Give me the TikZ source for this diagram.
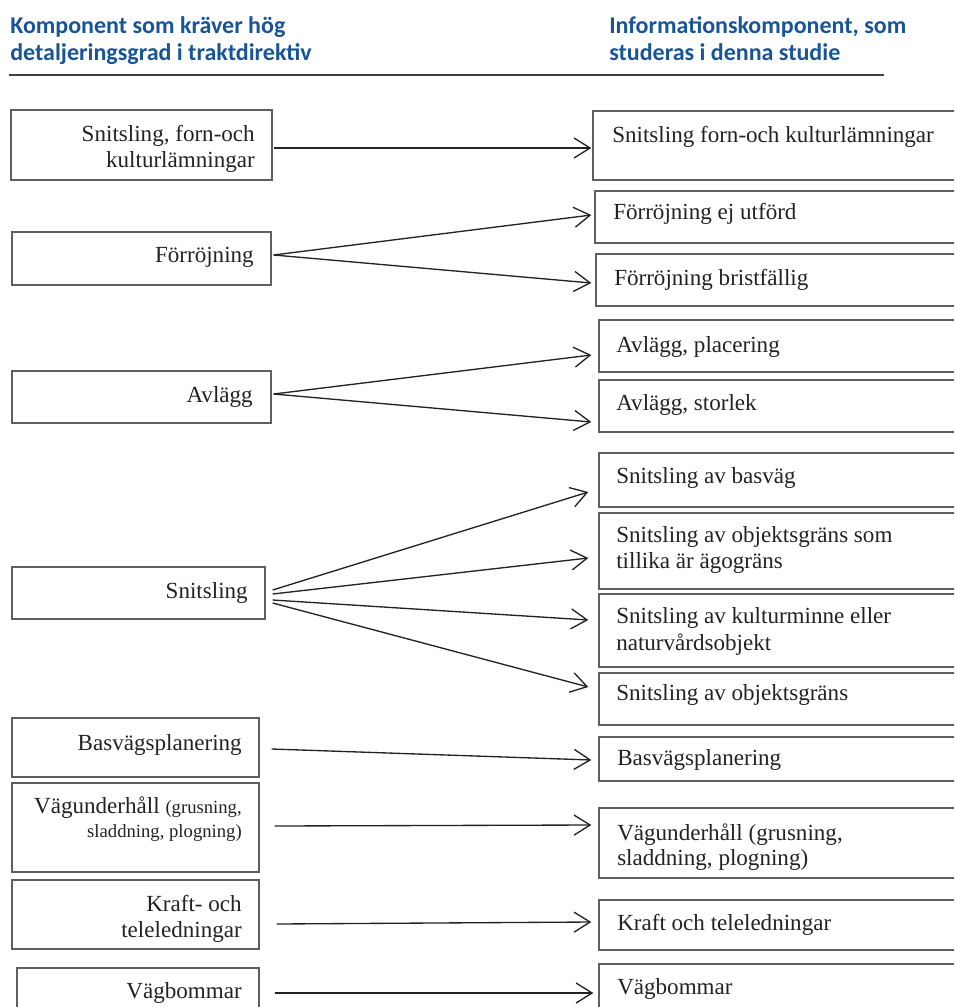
\documentclass[tikz,border=0pt]{standalone}
\usepackage{fontspec}
\setmainfont{Liberation Serif}
\newfontfamily\headfont{Carlito}
\usetikzlibrary{arrows.meta,calc,fit}
\definecolor{headblue}{RGB}{25,85,150}
\definecolor{boxgray}{RGB}{95,95,95}
\definecolor{textgray}{RGB}{35,35,35}
\begin{document}
\begin{tikzpicture}[x=0.75pt,y=-0.75pt,
  box/.style={draw=boxgray, line width=1pt, inner sep=0pt},
  ltxt/.style={inner sep=0pt, anchor=base east, text=textgray, font=\fontsize{17.3}{20}\selectfont},
  rtxt/.style={inner sep=0pt, anchor=base west, text=textgray, font=\fontsize{17.3}{20}\selectfont},
  htxt/.style={inner sep=0pt, anchor=base west, text=headblue, font=\headfont\bfseries\fontsize{18}{22}\selectfont},
  arr/.style={draw=textgray, line width=1pt, -{Straight Barb[length=12pt,width=15pt,line width=1pt]}}]
\clip (0,0) rectangle (954,1007);
\fill[white] (0,0) rectangle (954,1007);
% headers
\node[htxt] (h1) at (10,33) {Komponent som kräver hög};
\node[htxt] (h2) at (10,60) {detaljeringsgrad i traktdirektiv};
\node[htxt] (h3) at (609,33) {Informationskomponent, som};
\node[htxt] (h4) at (609,60) {studeras i denna studie};
\coordinate (rulea) at (9,75);
\coordinate (ruleb) at (884,75);
\draw[draw=black!75, line width=1.6pt] (rulea) -- (ruleb);
% left boxes
\node[box, fit={(11,110) (272,180)}] (l1) {};
\node[box, fit={(12,232) (271,285)}] (l2) {};
\node[box, fit={(12,371) (271,423)}] (l3) {};
\node[box, fit={(12,567) (265,619)}] (l4) {};
\node[box, fit={(12,718) (259,777)}] (l5) {};
\node[box, fit={(12,783) (259,872)}] (l6) {};
\node[box, fit={(12,880) (259,949)}] (l7) {};
\node[box, fit={(17,968) (259,1020)}] (l8) {};
% right boxes
\node[box, fit={(593,111) (965,180)}] (r1) {};
\node[box, fit={(595,191) (965,243)}] (r2) {};
\node[box, fit={(596,254) (965,306)}] (r3) {};
\node[box, fit={(599,320) (965,372)}] (r4) {};
\node[box, fit={(599,380) (965,432)}] (r5) {};
\node[box, fit={(599,453) (965,507)}] (r6) {};
\node[box, fit={(599,513) (965,589)}] (r7) {};
\node[box, fit={(599,594) (965,667)}] (r8) {};
\node[box, fit={(599,673) (965,725)}] (r9) {};
\node[box, fit={(599,737) (965,781)}] (r10) {};
\node[box, fit={(599,808) (965,878)}] (r11) {};
\node[box, fit={(599,900) (965,950)}] (r12) {};
\node[box, fit={(599,964) (965,1020)}] (r13) {};
% left texts
\node[ltxt] (t1a) at (255,141) {Snitsling, forn-och};
\node[ltxt] (t1b) at (255,167) {kulturlämningar};
\node[ltxt] (t2) at (254,262) {Förröjning};
\node[ltxt] (t3) at (253,402) {Avlägg};
\node[ltxt] (t4) at (248,598) {Snitsling};
\node[ltxt] (t5) at (242,750) {Basvägsplanering};
\node[ltxt] (t6a) at (242,813) {Vägunderhåll {\fontsize{14}{16}\selectfont(grusning,}};
\node[ltxt, font=\fontsize{14}{16}\selectfont] (t6b) at (242,837) {sladdning, plogning)};
\node[ltxt] (t7a) at (242,911) {Kraft- och};
\node[ltxt] (t7b) at (242,937) {teleledningar};
\node[ltxt] (t8) at (242,998) {Vägbommar};
% right texts
\node[rtxt] (s1) at (612,142) {Snitsling forn-och kulturlämningar};
\node[rtxt] (s2) at (613,219) {Förröjning ej utförd};
\node[rtxt] (s3) at (614,285) {Förröjning bristfällig};
\node[rtxt] (s4) at (616,352) {Avlägg, placering};
\node[rtxt] (s5) at (616,410) {Avlägg, storlek};
\node[rtxt] (s6) at (616,483) {Snitsling av basväg};
\node[rtxt] (s7a) at (616,542) {Snitsling av objektsgräns som};
\node[rtxt] (s7b) at (616,568) {tillika är ägogräns};
\node[rtxt] (s8a) at (616,623) {Snitsling av kulturminne eller};
\node[rtxt] (s8b) at (616,650) {naturvårdsobjekt};
\node[rtxt] (s9) at (616,700) {Snitsling av objektsgräns};
\node[rtxt] (s10) at (617,765) {Basvägsplanering};
\node[rtxt] (s11a) at (617,840) {Vägunderhåll (grusning,};
\node[rtxt] (s11b) at (617,865) {sladdning, plogning)};
\node[rtxt] (s12) at (617,930) {Kraft och teleledningar};
\node[rtxt] (s13) at (617,994) {Vägbommar};
% arrows
\draw[arr] ($(l1.east)+(1,3)$) -- ($(r1.west)+(-1,2.5)$);
\draw[arr] ($(l2.east)+(2,-3.5)$) -- ($(r2.west)+(-3,-2)$);
\draw[arr] ($(l2.east)+(2,-3.5)$) -- ($(r3.west)+(-4,3)$);
\draw[arr] ($(l3.east)+(2,-3)$) -- ($(r4.west)+(-7,9)$);
\draw[arr] ($(l3.east)+(2,-3)$) -- ($(r5.west)+(-7,16)$);
\draw[arr] ($(l4.east)+(7,-3)$) -- ($(r6.west)+(-10,12)$);
\draw[arr] ($(l4.east)+(7,1)$) -- ($(r7.west)+(-10,7)$);
\draw[arr] ($(l4.east)+(7,7)$) -- ($(r8.west)+(-10,-10.5)$);
\draw[arr] ($(l4.east)+(7,10)$) -- ($(r9.west)+(-10,-12)$);
\draw[arr] ($(l5.east)+(12,1.5)$) -- ($(r10.west)+(-7,1)$);
\draw[arr] ($(l6.east)+(15,-1.5)$) -- ($(r11.west)+(-7,-18)$);
\draw[arr] ($(l7.east)+(17,9.5)$) -- ($(r12.west)+(-7,-3)$);
\draw[arr] ($(l8.east)+(15,-1)$) -- ($(r13.west)+(-5,1)$);
\end{tikzpicture}
\end{document}
